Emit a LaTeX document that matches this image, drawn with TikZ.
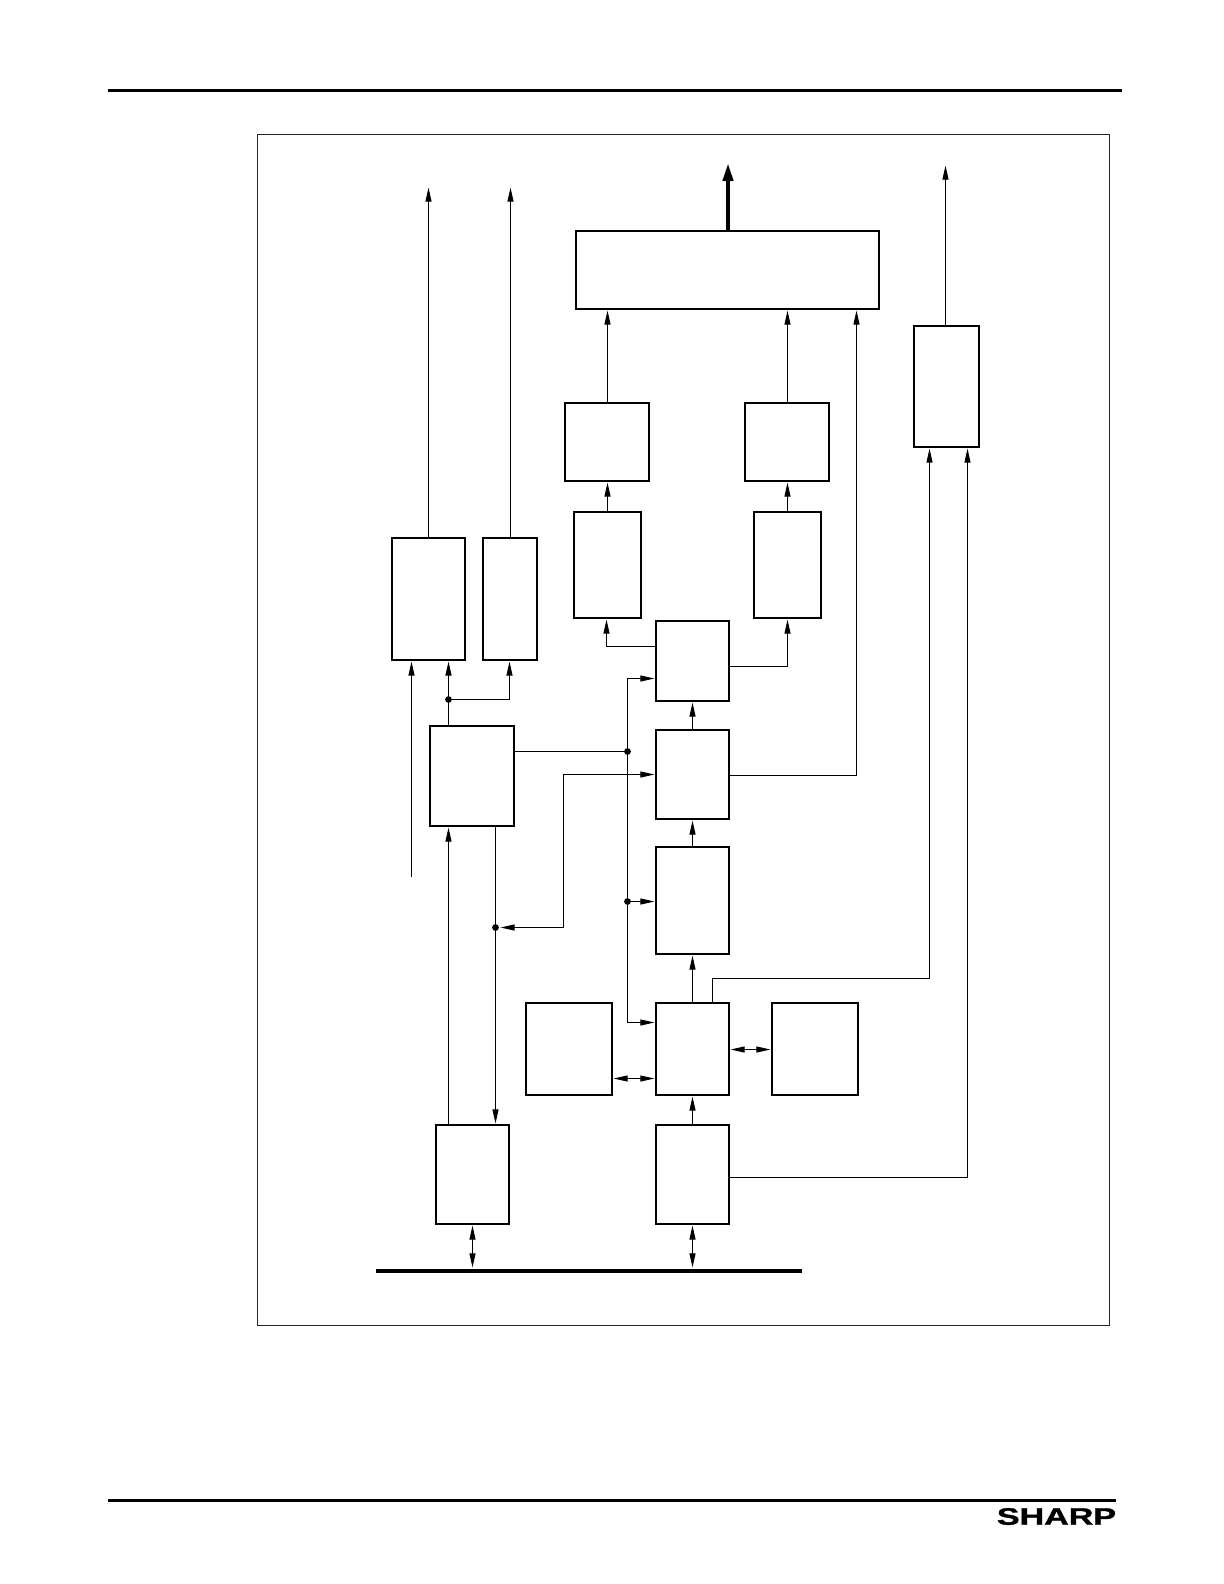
\documentclass[tikz,border=0pt]{standalone}
\usepackage{graphicx}
\usepackage{fontspec}
\usepackage{tikz}
\usetikzlibrary{arrows.meta, positioning}
\newfontfamily\logofont[BoldFeatures={FakeBold=1.2}]{Liberation Sans}

\begin{document}
\begin{tikzpicture}[x=.5bp, y=-.5bp]
            \tikzset{
                inner_box/.style={draw, shape = rectangle, line width=1bp, inner sep=0pt, outer sep=0pt},
                col_box/.style={inner_box, minimum width=36.5bp},
                frame_box/.style={draw=black!85, shape = rectangle, line width=.5bp, inner sep=0pt, outer sep=0pt, minimum width=426bp, minimum height=595.5bp},
                bar_line/.style={fill=black, shape = rectangle, inner sep=0pt, outer sep=0pt},
                tap_dot/.style={fill=black, shape = circle, inner sep=0pt, outer sep=0pt, minimum size=3.4bp},
                wire/.style={line width=.5bp},
                sig/.style={wire, -{Triangle[length=7bp, width=3bp]}, shorten >=.8bp},
                both/.style={wire, {Triangle[length=7bp, width=3bp]}-{Triangle[length=7bp, width=3bp]}, shorten >=.8bp, shorten <=.8bp}
            }
            \useasboundingbox (0,0) rectangle (1224,1584);

            \node[bar_line, minimum width=507bp, minimum height=1.5bp] (header) at (615,90) {};
            \node[bar_line, minimum width=504bp, minimum height=1.5bp] (footer) at (612,1500) {};
            \node[inner sep=0pt] (logo) at (1056.5,1516.5) {\scalebox{1.43}[1]{\logofont\bfseries\fontsize{11.9bp}{12bp}\selectfont SHARP}};
            \node[frame_box] (frame) at (683.5,730) {};

            \node[col_box, minimum height=49.5bp] (ifR) at (692.5,1174.5) {};
            \node[col_box, minimum height=49.5bp] (ifL) [left=73.5bp of ifR] {};
            \node[col_box, minimum height=46bp] (ctlD) [above=15bp of ifR] {};
            \node[col_box, minimum height=53.5bp] (ctlC) [above=24.5bp of ctlD] {};
            \node[col_box, minimum height=44.5bp] (ctlB) [above=14bp of ctlC] {};
            \node[col_box, minimum height=40bp] (ctlA) [above=14.5bp of ctlB] {};
            \node[inner_box, minimum width=43bp, minimum height=46bp] (ramL) [left=22bp of ctlD] {};
            \node[inner_box, minimum width=43bp, minimum height=46bp] (ramR) [right=21.5bp of ctlD] {};
            \node[inner_box, minimum width=42bp, minimum height=50bp] (seq) at (472,776) {};
            \node[col_box, minimum height=61bp] (regA) at (428.5,599) {};
            \node[inner_box, minimum width=27bp, minimum height=61bp] (regB) [right=9bp of regA] {};
            \node[inner_box, minimum width=33.5bp, minimum height=53bp] (decL) at (607.5,565) {};
            \node[inner_box, minimum width=33.5bp, minimum height=53bp] (decR) at (787.5,565) {};
            \node[inner_box, minimum width=42bp, minimum height=39bp] (drvL) at (606.5,442) {};
            \node[inner_box, minimum width=42bp, minimum height=39bp] (drvR) at (786.5,442) {};
            \node[inner_box, minimum width=151.5bp, minimum height=39bp] (top) at (727.5,270) {};
            \node[inner_box, minimum width=32.5bp, minimum height=60.5bp] (out) at (946.5,386.5) {};
            \node[bar_line, minimum width=213bp, minimum height=2bp] (bus) at (589,1271) {};

            \node[tap_dot] (tapA) at (448.5,699.5) {};
            \node[tap_dot] (tapB) at (627.5,751.5) {};
            \node[tap_dot] (tapC) at (627.5,901.5) {};
            \node[tap_dot] (tapD) at (495.5,927.5) {};

            \coordinate (pinA) at (411.5,877);
            \coordinate (pinB) at (428.5,186);
            \coordinate (pinC) at (510.5,186);
            \coordinate (pinD) at (945.5,164);
            \coordinate (pinE) at (728,163);
            \coordinate (railT) at (627.5,678.5);
            \coordinate (railB) at (627.5,1022.5);
            \coordinate (bendA) at (563.5,774.5);
            \coordinate (bendB) at (563.5,927.5);
            \coordinate (bendC) at (606.5,646.5);
            \coordinate (bendD) at (787.5,666.5);
            \coordinate (bendE) at (856.5,775.5);
            \coordinate (bendF) at (712.5,978.5);
            \coordinate (bendG) at (929.5,978.5);
            \coordinate (bendH) at (967.5,1177.5);
            \coordinate (bendJ) at (509.5,699.5);
            \coordinate (linkA) at (634,1078.5);
            \coordinate (linkB) at (750,1049.5);

            \draw[both] (ifL.south) -- (bus.north -| ifL.south);
            \draw[both] (ifR.south) -- (bus.north -| ifR.south);
            \draw[sig] (ifR.north) -- (ctlD.south);
            \draw[sig] (ctlD.north) -- (ctlC.south);
            \draw[sig] (ctlC.north) -- (ctlB.south);
            \draw[sig] (ctlB.north) -- (ctlA.south);
            \draw[both] (ctlD.east |- linkB) -- (ramR.west |- linkB);
            \draw[both] (ramL.east |- linkA) -- (ctlD.west |- linkA);
            \draw[sig] (ifL.north -| tapA) -- (seq.south -| tapA);
            \draw[sig] (seq.south -| tapD) -- (ifL.north -| tapD);
            \draw[wire] (seq.north -| tapA) -- (tapA.center);
            \draw[sig] (tapA.center) -- (regA.south -| tapA);
            \draw[sig] (tapA.center) -- (bendJ) -- (regB.south -| bendJ);
            \draw[sig] (pinA) -- (regA.south -| pinA);
            \draw[wire] (seq.east |- tapB) -- (tapB.center);
            \draw[sig] (tapB.center) -- (railT) -- (ctlA.west |- railT);
            \draw[sig] (tapB.center) -- (railB) -- (ctlD.west |- railB);
            \draw[sig] (tapC.center) -- (ctlC.west |- tapC);
            \draw[both] (tapD.east) -- (bendB) -- (bendA) -- (ctlB.west |- bendA);
            \draw[sig] (ctlA.west |- bendC) -- (bendC) -- (decL.south -| bendC);
            \draw[sig] (ctlA.east |- bendD) -- (bendD) -- (decR.south -| bendD);
            \draw[sig] (ctlB.east |- bendE) -- (bendE) -- (top.south -| bendE);
            \draw[sig] (ctlD.north -| bendF) -- (bendF) -- (bendG) -- (out.south -| bendG);
            \draw[sig] (ifR.east |- bendH) -- (bendH) -- (out.south -| bendH);
            \draw[sig] (decL.north) -- (drvL.south -| decL.north);
            \draw[sig] (decR.north) -- (drvR.south -| decR.north);
            \draw[sig] (drvL.north -| decL.north) -- (top.south -| decL.north);
            \draw[sig] (drvR.north -| decR.north) -- (top.south -| decR.north);
            \draw[sig] (regA.north) -- (pinB);
            \draw[sig] (regB.north -| pinC) -- (pinC);
            \draw[sig] (out.north -| pinD) -- (pinD);
            \draw[line width=2bp, -{Triangle[length=9bp, width=5bp]}] (top.north -| pinE) -- (pinE);
        \end{tikzpicture}
\end{document}
